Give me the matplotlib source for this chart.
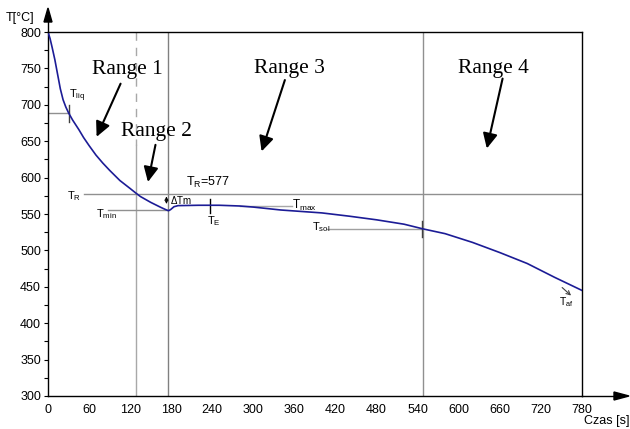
import matplotlib
matplotlib.use("Agg")
import matplotlib.pyplot as plt
from matplotlib.ticker import MultipleLocator

# cooling curve
czas = [0, 3, 6, 10, 14, 18, 22, 26, 30, 36, 45, 52, 60, 70, 80, 90, 105, 120,
        128, 135, 150, 165, 172, 176, 179, 184, 190, 220, 250, 280, 300, 320,
        340, 370, 400, 440, 480, 520, 548, 580, 620, 660, 700, 740, 780]
temp = [800, 791, 779, 762, 742, 722, 707, 697, 689, 679, 666, 655, 644, 631, 620,
        610, 596, 585, 579, 574, 566, 559, 556, 554.5, 556, 560, 561.5, 562, 562,
        561, 559.5, 557.5, 555.5, 553.5, 551.5, 547, 542, 536, 529.5, 523, 511,
        497, 482, 463, 445]

x_ticks = [0, 60, 120, 180, 240, 300, 360, 420, 480, 540, 600, 660, 720, 780]
y_ticks = [300, 350, 400, 450, 500, 550, 600, 650, 700, 750, 800]

range_bounds = [128, 176, 548]   # vertical lines between ranges
T_R = 577
T_liq = (30, 689)
T_min = 555
T_E = 236
T_max = 561.5
T_sol = (548, 529.5)

plt.rcParams['font.family'] = ['Liberation Sans Narrow', 'Liberation Sans', 'DejaVu Sans']
plt.rcParams['mathtext.default'] = 'regular'

fig = plt.figure(figsize=(6.3, 4.29), dpi=100)
ax = fig.add_axes([48/630, 1 - 396/429, (582 - 48)/630, (396 - 32)/429])

ax.set_xlim(0, 780)
ax.set_ylim(300, 800)
ax.set_xticks(x_ticks)
ax.set_yticks(y_ticks)
ax.yaxis.set_minor_locator(MultipleLocator(25))
ax.tick_params(axis='x', length=0, pad=6, labelsize=9)
ax.tick_params(axis='y', which='both', length=3, width=0.8, pad=2, labelsize=9)
for s in ax.spines.values():
    s.set_color("black")
    s.set_linewidth(1.0)

# range boundaries
ax.plot([range_bounds[0]] * 2, [800, 645], color="#a8a8a8", lw=1, ls=(0, (6, 5)))
ax.plot([range_bounds[0]] * 2, [645, 300], color="#a8a8a8", lw=1)
ax.axvline(range_bounds[1], color="#808080", lw=1)
ax.axvline(range_bounds[2], color="#909090", lw=1)

# T_R line
ax.plot([52, 780], [T_R, T_R], color="#909090", lw=1)
ax.text(48, 574, "T$_R$", fontsize=8, ha="right", va="center")
ax.text(202, 594, "T$_R$=577", fontsize=9, ha="left", va="center")

# helper lines
ax.plot([0, T_liq[0]], [T_liq[1], T_liq[1]], color="#909090", lw=1)
ax.plot([T_liq[0]] * 2, [676, 700], color="#404040", lw=1)
ax.text(31, 712, "T$_{liq}$", fontsize=8, ha="left", va="center")

ax.plot([88, 176], [T_min, T_min], color="#909090", lw=1)
ax.text(70, 550, "T$_{min}$", fontsize=8, ha="left", va="center")

ax.plot([T_E] * 2, [551, 571], color="black", lw=1)
ax.text(232, 540, "T$_E$", fontsize=8, ha="left", va="center")

ax.plot([280, 356], [T_max, T_max], color="#a8a8a8", lw=1)
ax.text(356, 562, "T$_{max}$", fontsize=8.5, ha="left", va="center")

ax.plot([407, T_sol[0]], [T_sol[1], T_sol[1]], color="#a0a0a0", lw=1)
ax.plot([T_sol[0] - 1.5] * 2, [518, 541], color="#404040", lw=1)
ax.text(385, 532, "T$_{sol}$", fontsize=8, ha="left", va="center")

ax.annotate("", xy=(173, 560), xytext=(173, 578),
            arrowprops=dict(arrowstyle="<->", color="black", lw=0.7, mutation_scale=5))
ax.text(178, 569, "$\\Delta$Tm", fontsize=7, ha="left", va="center")

ax.annotate("", xy=(764, 438), xytext=(751, 449),
            arrowprops=dict(arrowstyle="->", color="#404040", lw=0.8, mutation_scale=7,
                            shrinkA=0, shrinkB=0))
ax.text(746, 429, "T$_{af}$", fontsize=7.5, ha="left", va="center")

# the curve
ax.plot(czas, temp, color="#1c1c96", lw=1.2, zorder=5)

# range labels
ranges = ["Range 1", "Range 2", "Range 3", "Range 4"]
label_pos = [(116, 749), (159, 664), (352, 750), (650, 750)]
arrow_tail = [(106, 729), (157, 645), (346, 734), (664, 736)]
arrow_tip = [(71, 656), (146, 594), (312, 636), (641, 640)]
for name, p, tl, tp in zip(ranges, label_pos, arrow_tail, arrow_tip):
    ax.text(p[0], p[1], name, fontsize=15.5, family="Liberation Serif",
            ha="center", va="center")
    ax.annotate("", xy=tp, xytext=tl,
                arrowprops=dict(arrowstyle="-|>,head_length=0.45,head_width=0.22",
                                color="black", lw=1.5, mutation_scale=20,
                                shrinkA=0, shrinkB=0))

# axis arrows
fig.patches.append(plt.Polygon([(48/630, 1 - 8/429), (44/630, 1 - 22/429), (52/630, 1 - 22/429)],
                               closed=True, color="black", transform=fig.transFigure))
fig.lines.append(plt.Line2D([48/630, 48/630], [1 - 32/429, 1 - 20/429], color="black", lw=1,
                            transform=fig.transFigure))
fig.patches.append(plt.Polygon([(629/630, 1 - 396/429), (614/630, 1 - 392/429), (614/630, 1 - 400/429)],
                               closed=True, color="black", transform=fig.transFigure))
fig.lines.append(plt.Line2D([582/630, 616/630], [1 - 396/429, 1 - 396/429], color="black", lw=1,
                            transform=fig.transFigure))

fig.text(20/630, 1 - 18/429, "T[°C]", fontsize=9, ha="center", va="center")
fig.text(629/630, 1 - 421/429, "Czas [s]", fontsize=9, ha="right", va="center")

fig.savefig("out.png", dpi=100)
